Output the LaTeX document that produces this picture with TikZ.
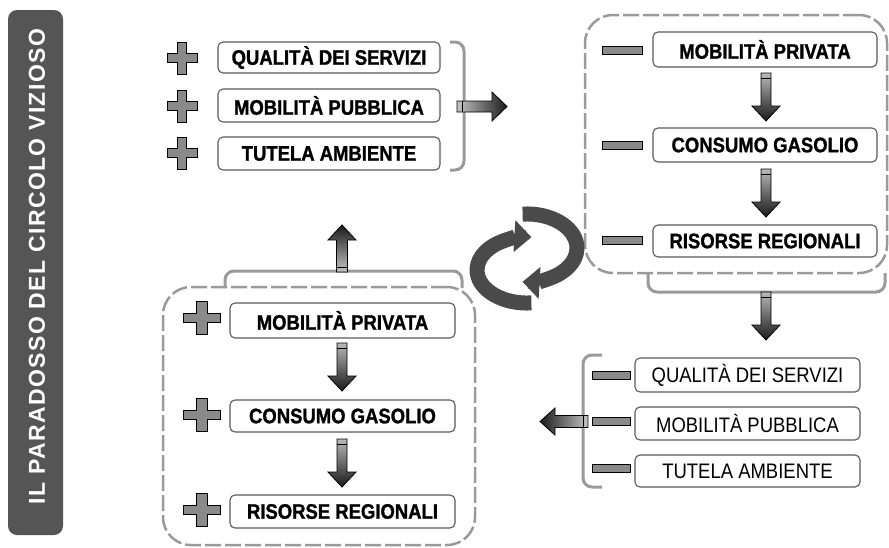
\documentclass[tikz,border=0pt]{standalone}
\usepackage{fontspec}
\setmainfont{Liberation Sans}
\newfontfamily\boxfont{Liberation Sans}[FakeStretch=0.88, BoldFeatures={FakeBold=1.2}]
\newfontfamily\titlefont{Liberation Sans}[LetterSpace=6]
\usetikzlibrary{arrows.meta}
\definecolor{bargray}{HTML}{555555}
\definecolor{linegray}{HTML}{9A9A9A}
\definecolor{signgray}{HTML}{8A8A8A}
\definecolor{boxline}{HTML}{5A5A5A}
\definecolor{ringgray}{HTML}{4A4A4A}
\begin{document}
\begin{tikzpicture}[x=1pt,y=-1pt,
 box/.style={draw=boxline, fill=white, rounded corners=5pt, line width=1.1pt, minimum width=224pt, minimum height=33pt, inner sep=0pt},
 btext/.style={font=\boxfont\bfseries\fontsize{21}{21}\selectfont},
 ptext/.style={font=\boxfont\fontsize{21}{21}\selectfont},
 group/.style={draw=linegray, line width=2.5pt, dash pattern=on 16pt off 4pt, rounded corners=28pt, inner sep=0pt},
 bracket/.style={draw=linegray, line width=3pt, rounded corners=9pt},
 minussign/.style={draw=black, fill=signgray, line width=1pt, minimum width=40pt, minimum height=8pt, inner sep=0pt},
 ring/.style={draw=ringgray, line width=15pt, -{Triangle[width=32pt,length=17pt,line width=0pt]}},
 blockarrow/.style={draw=black, line width=0.8pt},
 plussign/.pic={\path[draw=black, fill=signgray, line width=1pt] (-4.5,-16) -- (4.5,-16) -- (4.5,-4.5) -- (15,-4.5) -- (15,4.5) -- (4.5,4.5) -- (4.5,16) -- (-4.5,16) -- (-4.5,4.5) -- (-15,4.5) -- (-15,-4.5) -- (-4.5,-4.5) -- cycle;},
 downarrow/.pic={\shadedraw[top color=gray!55, bottom color=black!90, draw=black, line width=0.8pt] (-5,0) -- (5,0) -- (5,33) -- (14,33) -- (0,48) -- (-14,33) -- (-5,33) -- cycle; \draw[line width=0.8pt] (-5,5) -- (5,5);}
]
\useasboundingbox[fill=white] (0,0) rectangle (889,547);

% title bar
\node[fill=bargray, rounded corners=9pt, minimum width=55pt, minimum height=525pt, inner sep=0pt] (bar) at (35.5,272.5) {};
\node[rotate=90, text=white, font=\titlefont\bfseries\fontsize{23}{23}\selectfont, inner sep=0pt] (title) at (37,266.5) {IL PARADOSSO DEL CIRCOLO VIZIOSO};

% dashed groups
\node[group, minimum width=302pt, minimum height=258pt] (g1) at (736,144) {};
\node[group, minimum width=312pt, minimum height=258pt] (g2) at (319,416) {};

% brackets
\draw[bracket] (450,42) -- (464,42) -- (464,170) -- (450,170);
\draw[bracket] (648,273) -- (648,292) -- (885,292) -- (885,273);
\draw[bracket] (602,355) -- (583,355) -- (583,487) -- (602,487);
\draw[bracket] (225,288) -- (225,271) -- (462,271) -- (462,288);

% top-left group
\node[box, btext, minimum width=222pt, minimum height=31pt] (tq) at (329,57.5) {QUALITÀ DEI SERVIZI};
\node[box, btext, minimum width=222pt, minimum height=33pt] (tm) at (329,105.5) {MOBILITÀ PUBBLICA};
\node[box, btext, minimum width=222pt, minimum height=33pt] (tt) at (329,153.5) {TUTELA AMBIENTE};
\pic at (182,58) {plussign};
\pic at (182,106) {plussign};
\pic at (182,153) {plussign};
\shadedraw[left color=gray!45, right color=black!90, blockarrow] (457,101) -- (492,101) -- (492,92) -- (507,106.5) -- (492,121) -- (492,112) -- (457,112) -- cycle;
\draw[line width=0.8pt] (462,101) -- (462,112);

% top-right group
\node[box, btext, minimum height=35pt] (rmp) at (765,49.5) {MOBILITÀ PRIVATA};
\node[box, btext, minimum height=34pt] (rcg) at (765,145) {CONSUMO GASOLIO};
\node[box, btext, minimum height=32pt] (rrr) at (765,241) {RISORSE REGIONALI};
\node[minussign] (rm1) at (622,50) {};
\node[minussign] (rm2) at (622,145) {};
\node[minussign] (rm3) at (622,240) {};
\pic at (766,73) {downarrow};
\pic at (766,169) {downarrow};
\pic at (766,292) {downarrow};

% bottom-right group
\node[box, ptext, minimum width=225pt, minimum height=34pt] (bq) at (747.5,375) {QUALITÀ DEI SERVIZI};
\node[box, ptext, minimum width=225pt, minimum height=33pt] (bm) at (747.5,423.5) {MOBILITÀ PUBBLICA};
\node[box, ptext, minimum width=225pt, minimum height=32pt] (bt) at (747.5,471) {TUTELA AMBIENTE};
\node[minussign, minimum width=38pt] (bm1) at (611,375) {};
\node[minussign, minimum width=38pt] (bm2) at (611,421) {};
\node[minussign, minimum width=38pt] (bm3) at (611,468) {};
\shadedraw[left color=black!90, right color=gray!45, blockarrow] (588,415.5) -- (555,415.5) -- (555,408) -- (540,421.5) -- (555,435) -- (555,427.5) -- (588,427.5) -- cycle;
\draw[line width=0.8pt] (583,415.5) -- (583,427.5);

% bottom-left group
\node[box, btext, minimum width=225pt, minimum height=35pt] (lmp) at (342.5,320.5) {MOBILITÀ PRIVATA};
\node[box, btext, minimum width=225pt, minimum height=32pt] (lcg) at (342.5,416) {CONSUMO GASOLIO};
\node[box, btext, minimum width=225pt, minimum height=33pt] (lrr) at (342.5,511.5) {RISORSE REGIONALI};
\pic[xscale=1.25, yscale=1.03] at (202,318) {plussign};
\pic[xscale=1.25, yscale=1.03] at (202,415) {plussign};
\pic[xscale=1.25, yscale=1.03] at (202,510) {plussign};
\pic at (342,343) {downarrow};
\pic at (342,439) {downarrow};
\shadedraw[top color=black!90, bottom color=gray!45, blockarrow] (336.5,272) -- (336.5,240) -- (328,240) -- (342,225) -- (356,240) -- (347.5,240) -- (347.5,272) -- cycle;
\draw[line width=0.8pt] (336.5,267) -- (347.5,267);

% cycle arrows
\draw[ring] (522.6,214.1) arc[start angle=-95, end angle=95, x radius=50, y radius=34];
\draw[ring] (531.4,302.9) arc[start angle=85, end angle=275, x radius=50, y radius=33];
\end{tikzpicture}
\end{document}
